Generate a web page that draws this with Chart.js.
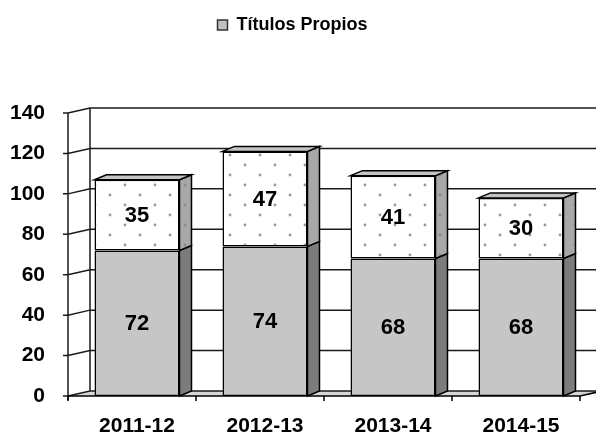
<!DOCTYPE html>
<html>
<head>
<meta charset="utf-8">
<script src="https://cdn.jsdelivr.net/npm/chart.js@4/dist/chart.umd.min.js"></script>
<style>
html, body { margin: 0; padding: 0; background: #fff; }
</style>
</head>
<body>
<canvas id="myChart" width="596" height="440"></canvas>
<script>
const cursos = ['2011-12', '2012-13', '2013-14', '2014-15'];
const titulosPropios = [72, 74, 68, 68];
const otros = [35, 47, 41, 30];
const yTicks = [0, 20, 40, 60, 80, 100, 120, 140];

const FONT = '"Liberation Sans", Arial, sans-serif';
const DX = 22, DY = 5;   // fondo de la pared
const BX = 12, BY = 5;   // fondo de las barras
const SHIFT = 5;         // eje frontal un poco a la izquierda de las barras

// trama de puntos para la parte superior
function dotPattern(bg, dot) {
    const c = document.createElement('canvas');
    c.width = 30; c.height = 20;
    const g = c.getContext('2d');
    g.fillStyle = bg;
    g.fillRect(0, 0, 30, 20);
    g.fillStyle = dot;
    g.beginPath(); g.arc(5, 5, 1.4, 0, Math.PI * 2); g.fill();
    g.beginPath(); g.arc(20, 15, 1.4, 0, Math.PI * 2); g.fill();
    return g.createPattern(c, 'repeat');
}

const frame3d = {
    id: 'frame3d',
    beforeInit(chart) {
        const fit = chart.legend.fit;
        chart.legend.fit = function () {
            fit.call(this);
            this.height = 113;
        };
    },
    beforeDatasetsDraw(chart) {
        const { ctx, chartArea: a, scales: { y } } = chart;
        const x0 = a.left - SHIFT, x1 = a.right - SHIFT;
        const yb = y.getPixelForValue(0), yt = y.getPixelForValue(140);
        ctx.save();
        // suelo
        ctx.fillStyle = '#d6d6d6';
        ctx.beginPath();
        ctx.moveTo(x0, yb); ctx.lineTo(x1, yb);
        ctx.lineTo(x1 + DX, yb - DY); ctx.lineTo(x0 + DX, yb - DY);
        ctx.closePath(); ctx.fill();
        // rejilla
        ctx.strokeStyle = '#1a1a1a';
        ctx.lineWidth = 1.5;
        ctx.beginPath();
        yTicks.forEach(v => {
            const py = y.getPixelForValue(v);
            ctx.moveTo(x0 - 5, py);
            ctx.lineTo(x0, py);
            ctx.lineTo(x0 + DX, py - DY);
            ctx.lineTo(chart.width, py - DY);
        });
        ctx.moveTo(x0 + DX, yt - DY); ctx.lineTo(x0 + DX, yb - DY);
        ctx.moveTo(x0, yt); ctx.lineTo(x0, yb + 4);
        ctx.stroke();
        ctx.restore();
    },
    afterDatasetsDraw(chart) {
        const { ctx, chartArea: a, scales: { y } } = chart;
        ctx.save();
        ctx.lineWidth = 1.5;
        ctx.strokeStyle = '#000';
        const sides = ['#7c7c7c', dotPattern('#a8a8a8', '#8a8a8a')];
        chart.data.datasets.forEach((ds, di) => {
            const meta = chart.getDatasetMeta(di);
            meta.data.forEach((bar, i) => {
                const p = bar.getProps(['x', 'y', 'base', 'width'], true);
                const l = p.x - p.width / 2, r = p.x + p.width / 2;
                // cara lateral
                ctx.fillStyle = sides[di];
                ctx.beginPath();
                ctx.moveTo(r, p.y); ctx.lineTo(r + BX, p.y - BY);
                ctx.lineTo(r + BX, p.base - BY); ctx.lineTo(r, p.base);
                ctx.closePath(); ctx.fill(); ctx.stroke();
                // cara superior
                if (di === chart.data.datasets.length - 1) {
                    ctx.fillStyle = '#c4c4c4';
                    ctx.beginPath();
                    ctx.moveTo(l, p.y); ctx.lineTo(l + BX, p.y - BY);
                    ctx.lineTo(r + BX, p.y - BY); ctx.lineTo(r, p.y);
                    ctx.closePath(); ctx.fill(); ctx.stroke();
                }
            });
        });
        // eje x frontal
        const x0 = a.left - SHIFT, x1 = a.right - SHIFT;
        const yb = y.getPixelForValue(0);
        const step = (x1 - x0) / cursos.length;
        ctx.beginPath();
        ctx.moveTo(x0, yb); ctx.lineTo(x1, yb); ctx.lineTo(x1 + DX, yb - DY);
        for (let i = 0; i <= cursos.length; i++) {
            ctx.moveTo(x0 + i * step, yb); ctx.lineTo(x0 + i * step, yb + 5);
        }
        ctx.stroke();
        // etiquetas
        ctx.fillStyle = '#000';
        ctx.font = 'bold 22px ' + FONT;
        ctx.textAlign = 'center';
        ctx.textBaseline = 'middle';
        chart.data.datasets.forEach((ds, di) => {
            chart.getDatasetMeta(di).data.forEach((bar, i) => {
                const p = bar.getProps(['x', 'y', 'base'], true);
                ctx.fillText(ds.data[i], p.x, (p.y + p.base) / 2 + 1);
            });
        });
        ctx.restore();
    }
};

const ctx = document.getElementById('myChart').getContext('2d');
const myChart = new Chart(ctx, {
    type: 'bar',
    data: {
        labels: cursos,
        datasets: [{
            label: 'Títulos Propios',
            data: titulosPropios,
            backgroundColor: '#c6c6c6',
            borderColor: '#000',
            borderWidth: 1.5,
            borderSkipped: false
        }, {
            label: 'Otros',
            data: otros,
            backgroundColor: dotPattern('#fff', '#999'),
            borderColor: '#000',
            borderWidth: 1.5,
            borderSkipped: false
        }]
    },
    options: {
        responsive: false,
        animation: false,
        layout: { padding: { right: 11 } },
        datasets: { bar: { categoryPercentage: 1, barPercentage: 0.664 } },
        plugins: {
            tooltip: { enabled: false },
            legend: {
                position: 'top',
                labels: {
                    boxWidth: 10,
                    boxHeight: 10,
                    padding: 16,
                    color: '#000',
                    font: { family: FONT, size: 18, weight: 'bold' },
                    generateLabels: chart => [{
                        text: 'Títulos Propios',
                        fillStyle: '#c0c0c0',
                        strokeStyle: '#333',
                        lineWidth: 1.5,
                        datasetIndex: 0
                    }]
                }
            }
        },
        scales: {
            x: {
                stacked: true,
                grid: { display: false, drawTicks: false },
                border: { display: false },
                ticks: {
                    color: '#000',
                    padding: 18,
                    maxRotation: 0,
                    autoSkip: false,
                    font: { family: FONT, size: 21, weight: 'bold' }
                },
                afterFit: s => { s.height = 44; }
            },
            y: {
                stacked: true,
                min: 0,
                max: 140,
                grid: { display: false, drawTicks: false },
                border: { display: false },
                ticks: {
                    stepSize: 20,
                    color: '#000',
                    padding: 28,
                    font: { family: FONT, size: 21, weight: 'bold' }
                },
                afterFit: s => { s.width = 73; }
            }
        }
    },
    plugins: [frame3d]
});
</script>
</body>
</html>
